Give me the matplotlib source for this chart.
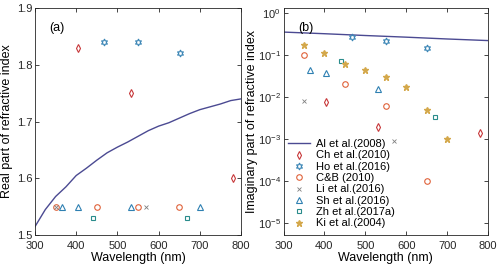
import numpy as np
import matplotlib.pyplot as plt

plt.rcParams['font.family'] = ['Liberation Sans', 'DejaVu Sans']
plt.rcParams['font.size'] = 9

# Al et al.(2008) curves
al_wl = [300, 325, 350, 375, 400, 425, 450, 475, 500, 525, 550, 575, 600,
         625, 650, 675, 700, 725, 750, 775, 800]
al_n = [1.515, 1.545, 1.568, 1.585, 1.605, 1.618, 1.632, 1.645, 1.655, 1.664,
        1.674, 1.684, 1.692, 1.698, 1.706, 1.714, 1.721, 1.726, 1.731, 1.737, 1.740]
al_k_wl = [300, 400, 500, 600, 700, 800]
al_k = [0.35, 0.32, 0.29, 0.265, 0.24, 0.22]

# point data sets: wavelength, real part, imaginary part
ch_wl = [405, 532, 780]
ch_n = [1.83, 1.75, 1.60]
ch_k = [0.0075, 0.002, 0.0014]

ho_wl = [467, 550, 652]
ho_n = [1.84, 1.84, 1.82]
ho_k = [0.27, 0.21, 0.15]

cb_wl = [350, 450, 550, 650]
cb_n = [1.55, 1.55, 1.55, 1.55]
cb_k = [0.1, 0.02, 0.006, 0.0001]

li_wl = [350, 570]
li_n = [1.55, 1.55]
li_k = [0.0082, 0.0009]

sh_wl = [365, 405, 532, 700]
sh_n = [1.55, 1.55, 1.55, 1.55]
sh_k_wl = [365, 405, 532]
sh_k = [0.043, 0.038, 0.016]

zh_wl = [440, 670]
zh_n = [1.53, 1.53]
zh_k = [0.073, 0.0034]

ki_wl = [350, 400, 450, 500, 550, 600, 650, 700]
ki_k = [0.17, 0.11, 0.062, 0.045, 0.03, 0.017, 0.005, 0.001]

c_line = '#4B4A92'
c_ch = '#C8383A'
c_ho = '#3A85B5'
c_cb = '#E0623A'
c_li = '#7F7F7F'
c_sh = '#2F80B2'
c_zh = '#2A8C8C'
c_ki = '#D4A84B'

ms = 4
hexa = (6, 1, 0)
fig = plt.figure(figsize=(5, 2.69), dpi=100)
ax1 = fig.add_axes([0.07, 0.126, 0.412, 0.844])
ax2 = fig.add_axes([0.567, 0.126, 0.409, 0.844])

# (a)
ax1.plot(al_wl, al_n, color=c_line, lw=1)
ax1.plot(ch_wl, ch_n, 'd', mfc='none', mec=c_ch, ms=ms, mew=0.8)
ax1.plot(ho_wl, ho_n, marker=hexa, ls='none', mfc='none', mec=c_ho, ms=5, mew=0.8)
ax1.plot(cb_wl, cb_n, 'o', mfc='none', mec=c_cb, ms=ms, mew=0.8)
ax1.plot(li_wl, li_n, 'x', color=c_li, ms=3, mew=0.6)
ax1.plot(sh_wl, sh_n, '^', mfc='none', mec=c_sh, ms=ms, mew=0.8)
ax1.plot(zh_wl, zh_n, 's', mfc='none', mec=c_zh, ms=3.5, mew=0.8)
ax1.set_xlim(300, 800)
ax1.set_ylim(1.5, 1.9)
ax1.set_xticks([300, 400, 500, 600, 700, 800])
ax1.set_yticks([1.5, 1.6, 1.7, 1.8, 1.9])
ax1.set_xlabel('Wavelength (nm)', labelpad=1)
ax1.set_ylabel('Real part of refractive index', labelpad=3)
ax1.text(0.07, 0.94, '(a)', transform=ax1.transAxes, va='top')

# (b)
ax2.semilogy(al_k_wl, al_k, color=c_line, lw=1, label='Al et al.(2008)')
ax2.plot(ch_wl, ch_k, 'd', mfc='none', mec=c_ch, ms=ms, mew=0.8, label='Ch et al.(2010)')
ax2.plot(ho_wl, ho_k, marker=hexa, ls='none', mfc='none', mec=c_ho, ms=5, mew=0.8,
         label='Ho et al.(2016)')
ax2.plot(cb_wl, cb_k, 'o', mfc='none', mec=c_cb, ms=ms, mew=0.8, label='C&B (2010)')
ax2.plot(li_wl, li_k, 'x', color=c_li, ms=3, mew=0.6, label='Li et al.(2016)')
ax2.plot(sh_k_wl, sh_k, '^', mfc='none', mec=c_sh, ms=ms, mew=0.8, label='Sh et al.(2016)')
ax2.plot(zh_wl, zh_k, 's', mfc='none', mec=c_zh, ms=3.5, mew=0.8, label='Zh et al.(2017a)')
ax2.plot(ki_wl, ki_k, '*', color=c_ki, ms=4.5, label='Ki et al.(2004)')
ax2.set_xlim(300, 800)
ax2.set_ylim(5.3e-6, 1.3)
ax2.set_xticks([300, 400, 500, 600, 700, 800])
ax2.set_yticks([1e-5, 1e-4, 1e-3, 1e-2, 1e-1, 1])
ax2.minorticks_off()
ax2.set_xlabel('Wavelength (nm)', labelpad=1)
ax2.set_ylabel('Imaginary part of refractive index', labelpad=0)
ax2.text(0.07, 0.94, '(b)', transform=ax2.transAxes, va='top')
ax2.legend(loc='lower left', frameon=False, fontsize=8, handlelength=2.0,
           handletextpad=0.5, labelspacing=0.12, borderaxespad=0.0,
           bbox_to_anchor=(0.0, 0.01))

for ax in (ax1, ax2):
    for s in ax.spines.values():
        s.set_color('#262626')
        s.set_linewidth(0.6)
    ax.tick_params(direction='in', length=3, width=0.6, top=True, right=True,
                   colors='#262626', labelsize=8)
    ax.tick_params(axis='x', pad=4)
    ax.tick_params(axis='y', pad=2)

fig.savefig('out.png', dpi=100)
